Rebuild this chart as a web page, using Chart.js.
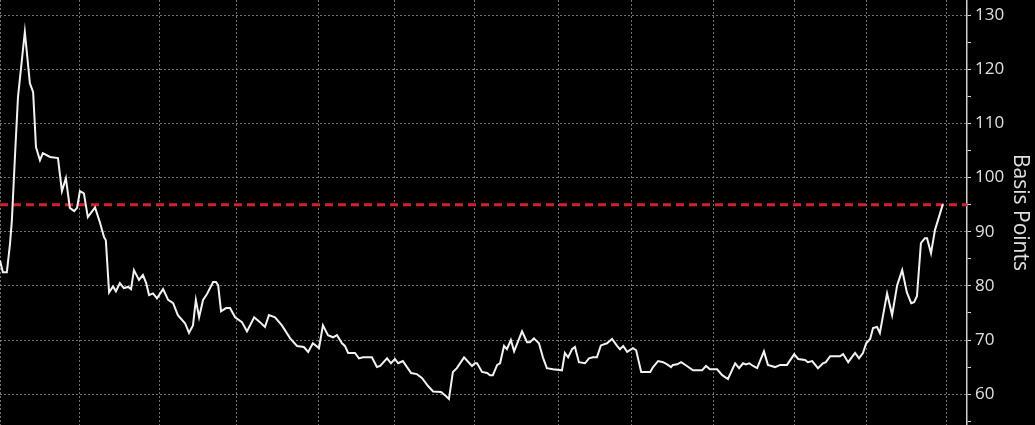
<!DOCTYPE html>
<html>
<head>
<meta charset="utf-8">
<script src="https://cdn.jsdelivr.net/npm/chart.js@4"></script>
<style>
    html, body { margin: 0; padding: 0; background: #000; }
    #wrap { width: 1035px; height: 425px; position: relative; }
</style>
</head>
<body>
<div id="wrap"><canvas id="spreadChart"></canvas></div>
<script>
// trading-session position of each reading
const sessions = [
    0, 0.8, 1.9, 2.8, 3.3, 4.2, 5, 6.9, 8.3, 9.2, 10, 11.1, 11.9, 13.9, 16.1, 17.2, 18.3, 19.4, 20.6, 21.4,
    22.2, 23.3, 24.4, 26.4, 27.8, 28.9, 29.4, 30.3, 31.4, 32.2, 33.3, 34.4, 35.6, 36.4, 37.2, 38.6, 39.7, 40.6, 41.4, 42.5,
    43.6, 45.3, 46.7, 48.1, 49.4, 51.4, 52.5, 53.6, 54.4, 55.3, 56.4, 57.5, 59.2, 60, 60.6, 61.4, 62.8, 63.9, 65.3, 67.2,
    68.6, 70.6, 72.2, 73.6, 74.7, 76.4, 78.3, 80.6, 82.5, 84.4, 85.6, 86.9, 88.6, 89.7, 91.1, 92.5, 93.6, 95, 95.8, 96.7,
    98.6, 99.7, 100.8, 103.3, 104.7, 105.6, 107.5, 108.6, 109.7, 110.6, 111.9, 114.2, 115.8, 117.2, 118.9, 120.3, 122.5, 123.6, 124.7, 125.8,
    126.9, 128.9, 131.1, 131.9, 132.5, 133.9, 135.3, 136.1, 136.9, 138.1, 138.9, 140, 140.8, 141.9, 142.8, 145, 146.4, 147.2, 148.3, 149.7,
    150.8, 151.9, 153.6, 156.1, 156.9, 157.8, 158.9, 159.7, 160.8, 162.5, 163.6, 164.7, 165.8, 166.9, 168.6, 170, 171.4, 172.2, 173.1, 174.2,
    175.8, 176.7, 178.1, 180.6, 181.4, 182.8, 184.2, 185.3, 186.4, 186.9, 188.1, 189.2, 190.8, 192.5, 195, 196.1, 197.2, 199.2, 200.6, 202.2,
    203.3, 204.2, 205.3, 206.4, 207.2, 208.1, 209.2, 210.3, 212.2, 213.3, 215.3, 216.7, 218.6, 220.6, 221.7, 223.6, 224.4, 225.6, 227.2, 228.6,
    229.4, 230.6, 233.3, 234.2, 235.6, 237.5, 238.6, 239.7, 240.6, 241.7, 242.5, 243.6, 244.4, 245.3, 246.4, 247.8, 249.2, 250.6, 251.9, 253.1,
    253.9, 254.7, 255.8, 256.9, 257.5, 258.6, 259.7, 261.9
];

// spread in basis points
const spread = [
    84.7, 82.5, 82.5, 87.9, 92.1, 104.5, 114.9, 126.9, 117.4, 115.8, 105.6, 103.2, 104.5, 103.8, 103.6, 97.5, 99.9, 94.4, 93.8, 94.4,
    97.5, 97.1, 92.7, 94.5, 91.6, 89.0, 88.4, 78.8, 79.9, 79.0, 80.5, 79.6, 79.8, 79.4, 82.9, 81.1, 82.0, 80.5, 78.3, 78.6,
    77.7, 79.4, 77.4, 76.8, 74.6, 73.1, 71.3, 72.7, 77.4, 74.2, 77.4, 78.5, 80.7, 80.7, 80.1, 75.3, 75.9, 75.9, 74.2, 73.3,
    71.6, 74.2, 73.3, 72.4, 74.6, 74.2, 72.7, 70.3, 68.9, 68.7, 67.8, 69.4, 68.5, 72.7, 70.9, 70.5, 70.9, 69.4, 68.9, 67.6,
    67.6, 66.6, 66.8, 66.8, 65.0, 65.2, 66.6, 65.7, 66.5, 65.7, 66.1, 63.9, 63.7, 63.0, 61.5, 60.5, 60.4, 59.8, 59.1, 64.1,
    64.8, 66.8, 65.2, 65.7, 65.7, 64.1, 63.9, 63.5, 63.5, 65.4, 65.7, 68.9, 68.3, 70.0, 67.9, 71.6, 69.6, 69.6, 70.3, 69.4,
    66.8, 64.8, 64.6, 64.4, 67.6, 66.8, 68.3, 68.7, 65.9, 65.7, 66.6, 66.8, 66.8, 69.0, 69.4, 70.2, 68.9, 68.3, 68.9, 67.8,
    68.5, 68.1, 64.1, 64.1, 65.0, 66.1, 65.9, 65.5, 65.0, 65.4, 65.5, 65.9, 65.2, 64.4, 64.4, 65.2, 64.6, 64.6, 63.5, 62.8,
    64.4, 65.7, 64.8, 65.7, 65.5, 65.7, 65.2, 64.8, 67.9, 65.4, 65.0, 65.4, 65.4, 67.4, 66.5, 66.3, 65.9, 66.1, 64.8, 65.7,
    65.9, 67.0, 67.0, 67.4, 65.9, 67.6, 66.6, 67.6, 69.4, 70.2, 72.2, 72.4, 71.3, 74.6, 78.6, 74.6, 80.1, 82.9, 78.8, 76.8,
    77.0, 78.1, 87.9, 88.8, 88.8, 86.0, 90.3, 95.1
];

// first session of each month (vertical grid)
const monthStarts = [0, 22.2, 44.4, 65.6, 88.6, 109.7, 131.7, 155, 175.3, 198.1, 220.6, 240.6, 262.8];
const yTicks = [55, 60, 65, 70, 75, 80, 85, 90, 95, 100, 105, 110, 115, 120, 125, 130];
const threshold = 95;
const xMax = 268.6;

const gridGrey = 'rgba(150, 150, 150, 0.75)';

new Chart(document.getElementById('spreadChart'), {
    type: 'line',
    data: {
        datasets: [
            {
                label: 'Spread',
                data: sessions.map((s, i) => ({ x: s, y: spread[i] })),
                borderColor: '#f2f2f2',
                borderWidth: 2,
                pointRadius: 0,
                tension: 0
            },
            {
                label: 'Threshold',
                data: [{ x: 0, y: threshold }, { x: xMax, y: threshold }],
                borderColor: '#d3202e',
                borderWidth: 3,
                borderDash: [8, 5],
                pointRadius: 0
            }
        ]
    },
    options: {
        responsive: true,
        maintainAspectRatio: false,
        animation: false,
        layout: { padding: 0 },
        plugins: {
            legend: { display: false },
            tooltip: { enabled: false }
        },
        scales: {
            x: {
                type: 'linear',
                min: 0,
                max: xMax,
                afterBuildTicks: s => { s.ticks = monthStarts.map(v => ({ value: v })); },
                afterFit: s => {
                    s.height = 0;
                    s.paddingLeft = 0;
                    s.paddingRight = 0;
                },
                ticks: { display: false },
                grid: {
                    color: gridGrey,
                    lineWidth: 1,
                    drawTicks: false
                },
                border: { display: false, dash: [2, 2] }
            },
            y: {
                position: 'right',
                min: 54.3,
                max: 132.8,
                afterBuildTicks: s => { s.ticks = yTicks.map(v => ({ value: v })); },
                afterFit: s => {
                    s.width = 68;
                    s.paddingTop = 0;
                    s.paddingBottom = 0;
                },
                ticks: {
                    callback: v => (v % 10 === 0 ? v : ''),
                    color: '#e0e0e0',
                    padding: 4,
                    font: { family: 'Open Sans', size: 17 }
                },
                grid: {
                    color: ctx => (ctx.tick && ctx.tick.value % 10 === 0 ? gridGrey : 'rgba(0,0,0,0)'),
                    tickColor: '#d0d0d0',
                    tickLength: 4,
                    lineWidth: 1
                },
                border: { color: '#d0d0d0', width: 1.5, dash: [2, 2] },
                title: {
                    display: true,
                    text: 'Basis Points',
                    color: '#e0e0e0',
                    padding: 2,
                    font: { family: 'Open Sans', size: 21 }
                }
            }
        }
    }
});
</script>
</body>
</html>
